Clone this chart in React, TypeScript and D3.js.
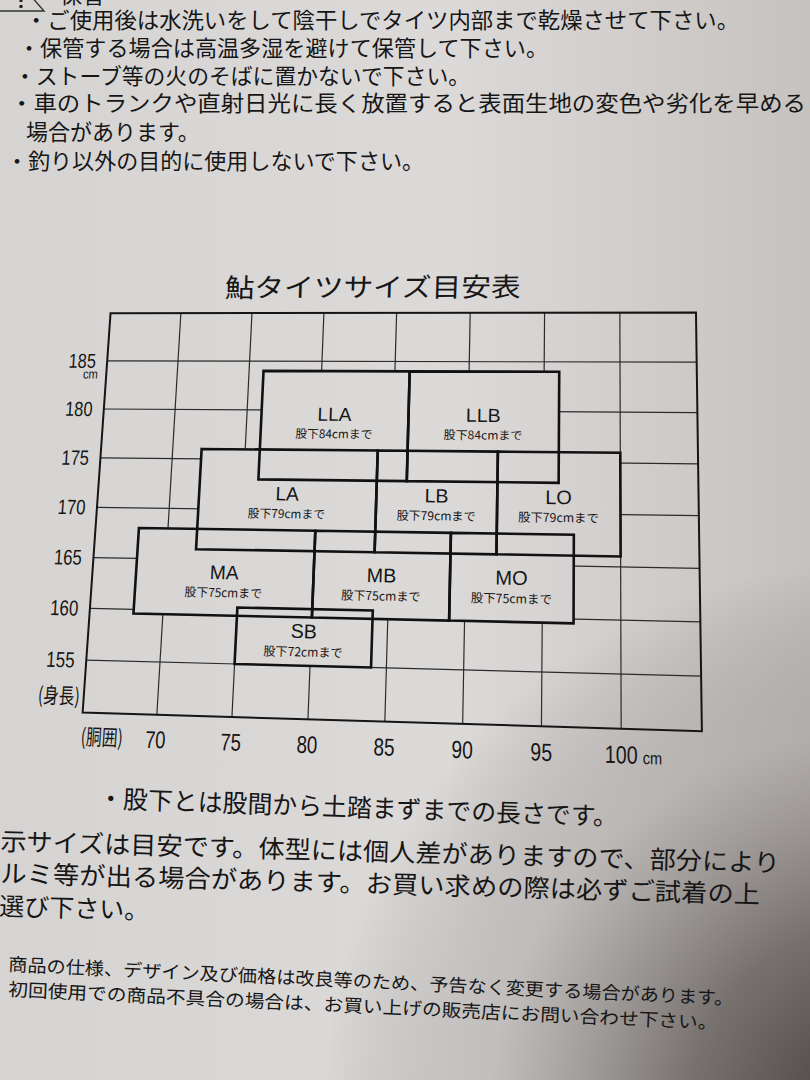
import React from "react";
import * as d3 from "d3";

// ---------- data ----------
const waistTicks = [70, 75, 80, 85, 90, 95, 100];
const heightTicks = [155, 160, 165, 170, 175, 180, 185];
const waistRange = [65, 105];
const heightRange = [150, 190];

const sizeNames = ["LLA", "LLB", "LA", "LB", "LO", "MA", "MB", "MO", "SB"];
const waistMin = [76, 86, 72, 84, 92, 68, 80, 89, 75];
const waistMax = [86, 96, 84, 92, 100, 80, 89, 97, 84];
const heightMin = [173, 173, 166, 166, 166, 159.6, 159.6, 159.6, 155];
const heightMax = [184, 184, 176, 176, 176, 168, 168, 168, 160.4];
const inseamCm = [84, 84, 79, 79, 79, 75, 75, 75, 72];

const chartTitle = "鮎タイツサイズ目安表";
const heightLabel = "(身長)";
const waistLabel = "(胴囲)";
const unitLabel = "cm";
const inseamPrefix = "股下";
const inseamSuffix = "cmまで";

const headerText = "保管";
const cautionLines = [
  "・ご使用後は水洗いをして陰干しでタイツ内部まで乾燥させて下さい。",
  "・保管する場合は高温多湿を避けて保管して下さい。",
  "・ストーブ等の火のそばに置かないで下さい。",
  "・車のトランクや直射日光に長く放置すると表面生地の変色や劣化を早める",
  "場合があります。",
  "・釣り以外の目的に使用しないで下さい。",
];
const noteLines = [
  "・股下とは股間から土踏まずまでの長さです。",
  "表示サイズは目安です。体型には個人差がありますので、部分により",
  "タルミ等が出る場合があります。お買い求めの際は必ずご試着の上",
  "お選び下さい。",
];
const footerLines = [
  "商品の仕様、デザイン及び価格は改良等のため、予告なく変更する場合があります。",
  "初回使用での商品不具合の場合は、お買い上げの販売店にお問い合わせ下さい。",
];

// ---------- layout (x, centerY, width or 0, fontSize, rotation) ----------
const cautionLayout = [
  [25, 20, 714, 22, 0],
  [18, 48, 530, 22, 0],
  [14, 76, 456, 22, 0],
  [10, 103, 796, 22, 0],
  [26, 132, 0, 22, 0],
  [6, 161, 418, 22, 0],
];
const noteLayout = [
  [98, 798, 520, 25, 2.0],
  [-26, 840, 806, 25, 1.6],
  [-26, 872, 786, 25, 1.6],
  [-26, 905, 0, 25, 1.6],
];
const footerLayout = [
  [8, 964, 726, 18, 2.7],
  [8, 989, 710, 18, 2.7],
];

const CJK = "'Noto Sans CJK JP', 'Noto Sans JP', sans-serif";
const LATIN = "'Liberation Sans', Arial, sans-serif";
const INK = "#161616";

function solveHomography(src: number[][], dst: number[][]): number[] {
  const A: number[][] = [];
  const b: number[] = [];
  for (let i = 0; i < 4; i++) {
    const [x, y] = src[i];
    const [X, Y] = dst[i];
    A.push([x, y, 1, 0, 0, 0, -x * X, -y * X]);
    b.push(X);
    A.push([0, 0, 0, x, y, 1, -x * Y, -y * Y]);
    b.push(Y);
  }
  const n = 8;
  for (let c = 0; c < n; c++) {
    let p = c;
    for (let r = c + 1; r < n; r++) if (Math.abs(A[r][c]) > Math.abs(A[p][c])) p = r;
    [A[c], A[p]] = [A[p], A[c]];
    [b[c], b[p]] = [b[p], b[c]];
    for (let r = c + 1; r < n; r++) {
      const f = A[r][c] / A[c][c];
      for (let k = c; k < n; k++) A[r][k] -= f * A[c][k];
      b[r] -= f * b[c];
    }
  }
  const h = new Array(n).fill(0);
  for (let r = n - 1; r >= 0; r--) {
    let s = b[r];
    for (let k = r + 1; k < n; k++) s -= A[r][k] * h[k];
    h[r] = s / A[r][r];
  }
  return h;
}

export default function App() {
  const xs = d3.scaleLinear().domain([70, 100]).range([169, 620]);
  const ys = d3.scaleLinear().domain([155, 185]).range([668, 361]);

  const H = solveHomography(
    [
      [xs(70), ys(185)],
      [xs(100), ys(185)],
      [xs(70), ys(155)],
      [xs(100), ys(155)],
    ],
    [
      [178, 361],
      [620, 362],
      [160, 662],
      [621, 674],
    ]
  );
  const P = (fx: number, fy: number): [number, number] => {
    const w = H[6] * fx + H[7] * fy + 1;
    return [(H[0] * fx + H[1] * fy + H[2]) / w, (H[3] * fx + H[4] * fy + H[5]) / w];
  };
  const lineGen = d3.line();
  const seg = (x1: number, y1: number, x2: number, y2: number) =>
    lineGen([P(x1, y1), P(x2, y2)]) as string;
  const poly = (a: number, b: number, c: number, d: number) =>
    (lineGen([P(a, c), P(b, c), P(b, d), P(a, d)]) as string) + "Z";
  const tf = (fx: number, fy: number, sx = 1) => {
    const [X, Y] = P(fx, fy);
    const [ax, ay] = P(fx + 1, fy);
    const [bx, by] = P(fx - 1, fy);
    const [cx, cy] = P(fx, fy + 1);
    const [dx, dy] = P(fx, fy - 1);
    const a = (ax - bx) / 2, b = (ay - by) / 2, c = (cx - dx) / 2, d = (cy - dy) / 2;
    return `matrix(${a * sx},${b * sx},${c},${d},${X},${Y})`;
  };

  const fx0 = xs(waistRange[0]);
  const fx1 = xs(waistRange[1]);
  const fyTop = ys(heightRange[1]);
  const fyBot = ys(heightRange[0]);

  const boxes = sizeNames.map((name, i) => {
    let visTop = heightMax[i];
    sizeNames.forEach((_, j) => {
      if (j === i) return;
      const xOverlap = waistMin[j] < waistMax[i] && waistMax[j] > waistMin[i];
      if (xOverlap && heightMax[j] > heightMax[i] && heightMin[j] < heightMax[i] && heightMin[j] > heightMin[i]) {
        visTop = Math.min(visTop, heightMin[j]);
      }
    });
    const mid = (ys(visTop) + ys(heightMin[i])) / 2;
    const cy = Math.min(ys(heightMax[i]) + 55, mid);
    const cx = (xs(waistMin[i]) + xs(waistMax[i])) / 2;
    return { name, i, cx, cy };
  });

  return (
    <svg
      width={810}
      height={1080}
      viewBox="0 0 810 1080"
      style={{ position: "absolute", left: 0, top: 0, display: "block" }}
    >
      <defs>
        <linearGradient id="paper" x1="0" y1="0" x2="1" y2="0">
          <stop offset="0" stopColor="#d6d4d3" />
          <stop offset="0.55" stopColor="#dcdad9" />
          <stop offset="1" stopColor="#c6c2c0" />
        </linearGradient>
        <radialGradient id="shade" gradientUnits="userSpaceOnUse" cx={880} cy={1120} r={560}>
          <stop offset="0" stopColor="#3a3431" stopOpacity={0.95} />
          <stop offset="0.35" stopColor="#4a4441" stopOpacity={0.65} />
          <stop offset="0.7" stopColor="#6e6864" stopOpacity={0.22} />
          <stop offset="1" stopColor="#000" stopOpacity={0} />
        </radialGradient>
        <mask id="gridMask" maskUnits="userSpaceOnUse" x={0} y={0} width={810} height={1080}>
          <rect x={0} y={0} width={810} height={1080} fill="#fff" />
          {sizeNames.map((n, i) => (
            <path key={n} d={poly(xs(waistMin[i]), xs(waistMax[i]), ys(heightMax[i]), ys(heightMin[i]))} fill="#000" />
          ))}
        </mask>
      </defs>

      <rect x={0} y={0} width={810} height={1080} fill="url(#paper)" />
      <rect x={0} y={0} width={810} height={1080} fill="url(#shade)" />

      {/* header fragment (cut off at the top edge) */}
      <path d="M-14,11 L15,-22 L44,11 Z" fill="none" stroke="#333" strokeWidth={1.4} />
      <line x1={21} y1={-10} x2={21} y2={2} stroke="#222" strokeWidth={3} />
      <circle cx={21} cy={6.5} r={1.8} fill="#222" />
      <text x={60} y={3} fontFamily={CJK} fontSize={22} fill={INK}>{headerText}</text>

      {/* caution lines */}
      {cautionLines.map((t, i) => {
        const [x, cy, w, fs, rot] = cautionLayout[i];
        return (
          <text
            key={"c" + i}
            transform={`translate(${x},${cy + 0.38 * fs}) rotate(${rot})`}
            fontFamily={CJK}
            fontSize={fs}
            fill={INK}
            {...(w ? { textLength: w, lengthAdjust: "spacingAndGlyphs" } : {})}
          >
            {t}
          </text>
        );
      })}

      {/* title */}
      <text
        transform={tf(369, 282 + 0.38 * 28)}
        textAnchor="middle"
        fontFamily={CJK}
        fontSize={28}
        fill={INK}
        textLength={306}
        lengthAdjust="spacingAndGlyphs"
      >
        {chartTitle}
      </text>

      {/* grid */}
      <g mask="url(#gridMask)" stroke="#2b2b2b" strokeWidth={1.2} fill="none">
        {waistTicks.map((w) => (
          <path key={"v" + w} d={seg(xs(w), fyTop, xs(w), fyBot)} />
        ))}
        {heightTicks.map((h) => (
          <path key={"h" + h} d={seg(fx0, ys(h), fx1, ys(h))} />
        ))}
      </g>

      {/* frame */}
      <path d={poly(fx0, fx1, fyTop, fyBot)} fill="none" stroke="#151515" strokeWidth={2} />

      {/* size boxes */}
      <g fill="none" stroke="#111" strokeWidth={2.6} strokeLinejoin="miter">
        {sizeNames.map((n, i) => (
          <path key={"b" + n} d={poly(xs(waistMin[i]), xs(waistMax[i]), ys(heightMax[i]), ys(heightMin[i]))} />
        ))}
      </g>

      {/* box labels */}
      {boxes.map((b) => (
        <g key={"l" + b.name}>
          <text
            transform={tf(b.cx, b.cy - 10 + 6.8)}
            textAnchor="middle"
            fontFamily={LATIN}
            fontSize={19.5}
            fill={INK}
          >
            {b.name}
          </text>
          <text
            transform={tf(b.cx, b.cy + 10 + 4.6)}
            textAnchor="middle"
            fontFamily={CJK}
            fontSize={12}
            fill={INK}
          >
            {inseamPrefix + inseamCm[b.i] + inseamSuffix}
          </text>
        </g>
      ))}

      {/* y axis labels */}
      {heightTicks.map((h) => (
        <text
          key={"yt" + h}
          transform={tf(fx0 - 12, ys(h) + 7.5, 0.81)}
          textAnchor="end"
          fontFamily={LATIN}
          fontSize={21.5}
          fill={INK}
        >
          {h}
        </text>
      ))}
      <text
        transform={tf(fx0 - 9, ys(heightTicks[heightTicks.length - 1]) + 19, 0.85)}
        textAnchor="end"
        fontFamily={LATIN}
        fontSize={14}
        fill={INK}
      >
        {unitLabel}
      </text>
      <text
        transform={tf(fx0 - 4, fyBot - 15 + 7, 0.76)}
        textAnchor="end"
        fontFamily={CJK}
        fontSize={21}
        fill={INK}
      >
        {heightLabel}
      </text>

      {/* x axis labels */}
      {waistTicks.map((w) => (
        <text
          key={"xt" + w}
          transform={tf(xs(w), fyBot + 32, 0.8)}
          textAnchor="middle"
          fontFamily={LATIN}
          fontSize={23}
          fill={INK}
        >
          {w}
        </text>
      ))}
      <text
        transform={tf(xs(waistTicks[waistTicks.length - 1]) + 20, fyBot + 32, 0.85)}
        fontFamily={LATIN}
        fontSize={16}
        fill={INK}
      >
        {unitLabel}
      </text>
      <text
        transform={tf(xs(waistTicks[0]) - 54, fyBot + 31, 0.76)}
        textAnchor="middle"
        fontFamily={CJK}
        fontSize={21}
        fill={INK}
      >
        {waistLabel}
      </text>

      {/* notes under chart */}
      {noteLines.map((t, i) => {
        const [x, cy, w, fs, rot] = noteLayout[i];
        return (
          <text
            key={"n" + i}
            transform={`translate(${x},${cy + 0.38 * fs}) rotate(${rot})`}
            fontFamily={CJK}
            fontSize={fs}
            fill={INK}
            {...(w ? { textLength: w, lengthAdjust: "spacingAndGlyphs" } : {})}
          >
            {t}
          </text>
        );
      })}

      {/* footer */}
      {footerLines.map((t, i) => {
        const [x, cy, w, fs, rot] = footerLayout[i];
        return (
          <text
            key={"f" + i}
            transform={`translate(${x},${cy + 0.38 * fs}) rotate(${rot})`}
            fontFamily={CJK}
            fontSize={fs}
            fill={INK}
            textLength={w}
            lengthAdjust="spacingAndGlyphs"
          >
            {t}
          </text>
        );
      })}
    </svg>
  );
}
